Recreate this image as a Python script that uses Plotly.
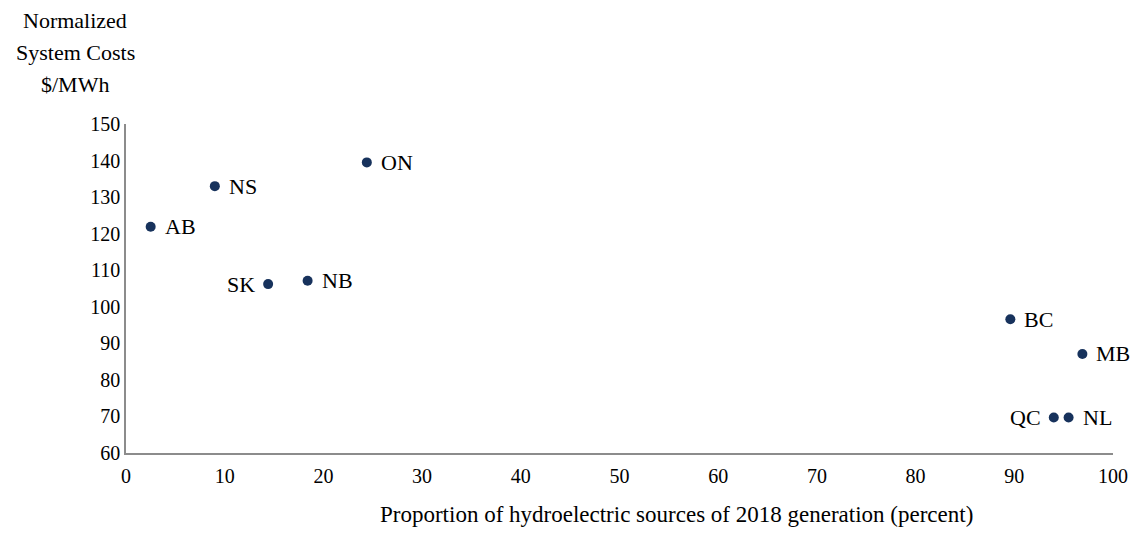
import plotly.graph_objects as go

provinces = ["AB", "NS", "ON", "SK", "NB", "BC", "MB", "QC", "NL"]
hydro_share = [2.5, 9.0, 24.4, 14.4, 18.4, 89.6, 96.9, 94.0, 95.5]
system_costs = [121.9, 133.0, 139.5, 106.2, 107.1, 96.6, 87.1, 69.7, 69.7]
label_side = ["right", "right", "right", "left", "right", "right", "right", "left", "right"]

x_ticks = list(range(0, 101, 10))
y_ticks = list(range(60, 151, 10))
y_title_lines = ["Normalized", "System Costs", "$/MWh"]

FONT = "Liberation Serif"
TXT = "#000000"

fig = go.Figure(go.Scatter(
    x=hydro_share, y=system_costs, mode="markers",
    marker=dict(size=10, color="#17325c"),
    cliponaxis=False, hoverinfo="skip",
))

annotations = []
for name, xv, yv, side in zip(provinces, hydro_share, system_costs, label_side):
    annotations.append(dict(
        text=name, x=xv, y=yv, xref="x", yref="y", showarrow=False,
        xanchor="left" if side == "right" else "right", yanchor="middle",
        xshift=12 if side == "right" else -11,
        font=dict(family=FONT, size=22, color=TXT),
    ))

for i, line in enumerate(y_title_lines):
    annotations.append(dict(
        text=line, xref="paper", yref="paper", x=-51 / 994, y=1.0, yshift=104 - 32 * i,
        xanchor="center", yanchor="middle", showarrow=False,
        font=dict(family=FONT, size=22, color=TXT)))

annotations.append(dict(
    text="Proportion of hydroelectric sources of 2018 generation (percent)",
    xref="paper", yref="paper", x=(680 - 126) / 994, y=0, yshift=-61,
    xanchor="center", yanchor="middle", showarrow=False,
    font=dict(family=FONT, size=23, color=TXT)))

axis_common = dict(showgrid=False, zeroline=False, showline=True, linecolor="#8c8c8c",
                   linewidth=1.5, ticks="", tickfont=dict(family=FONT, size=20, color=TXT))

fig.update_layout(
    width=1132, height=534,
    margin=dict(l=118, r=20, t=116, b=89),
    plot_bgcolor="white", paper_bgcolor="white",
    showlegend=False,
    xaxis=dict(range=[0, 100], tickvals=x_ticks, ticklabelstandoff=4, **axis_common),
    yaxis=dict(range=[60, 150], tickvals=y_ticks, **axis_common),
    annotations=annotations,
)

fig.write_html("out.html")
